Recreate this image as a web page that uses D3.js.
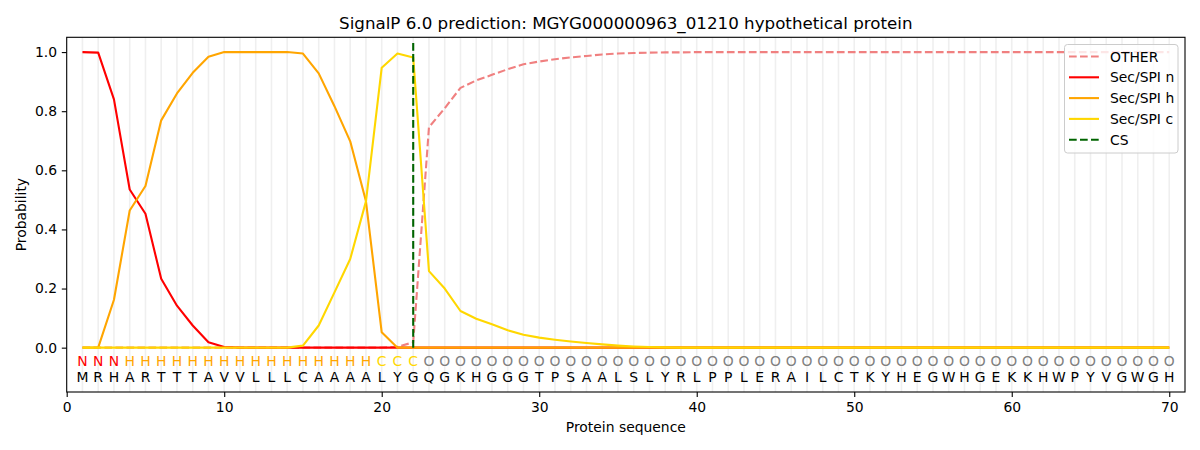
<!DOCTYPE html>
<html>
<head>
<meta charset="utf-8">
<script src="https://cdn.jsdelivr.net/npm/d3@7"></script>
<style>
  body { margin: 0; background: #fff; }
  svg { display: block; font-family: "DejaVu Sans", sans-serif; }
</style>
</head>
<body>
<svg id="chart" width="1200" height="450"></svg>
<script>
const sequence = 'MRHARTTTAVVLLLCAAAALYGQGKHGGGTPSAALSLYRLPPLERAILCTKYHEGWHGEKKHWPYVGWGH'.split('');
const regions = 'NNNHHHHHHHHHHHHHHHHCCC'.split('').concat(Array(48).fill('O'));

const otherProb = [0, 0, 0, 0, 0, 0, 0, 0, 0, 0, 0, 0, 0, 0, 0, 0, 0, 0, 0, 0,
  0.003, 0.018, 0.746, 0.81, 0.879, 0.904, 0.923, 0.942, 0.959, 0.968,
  0.976, 0.982, 0.987, 0.992, 0.995, 0.997, 0.998, 0.999, 0.999, 1.0,
  1, 1, 1, 1, 1, 1, 1, 1, 1, 1, 1, 1, 1, 1, 1, 1, 1, 1, 1, 1,
  1, 1, 1, 1, 1, 1, 1, 1, 1, 1];
const nProb = [1.0, 0.998, 0.84, 0.535, 0.453, 0.233, 0.142, 0.075, 0.018, 0.002,
  0, 0, 0, 0, 0, 0, 0, 0, 0, 0, 0, 0, 0, 0, 0, 0, 0, 0, 0, 0,
  0, 0, 0, 0, 0, 0, 0, 0, 0, 0, 0, 0, 0, 0, 0, 0, 0, 0, 0, 0,
  0, 0, 0, 0, 0, 0, 0, 0, 0, 0, 0, 0, 0, 0, 0, 0, 0, 0, 0, 0];
const hProb = [0, 0, 0.162, 0.464, 0.547, 0.769, 0.86, 0.93, 0.984, 1.0,
  1.0, 1.0, 1.0, 1.0, 0.995, 0.928, 0.817, 0.698, 0.495, 0.052,
  0, 0, 0, 0, 0, 0, 0, 0, 0, 0, 0, 0, 0, 0, 0, 0, 0, 0, 0, 0,
  0, 0, 0, 0, 0, 0, 0, 0, 0, 0, 0, 0, 0, 0, 0, 0, 0, 0, 0, 0,
  0, 0, 0, 0, 0, 0, 0, 0, 0, 0];
const cProb = [0, 0, 0, 0, 0, 0, 0, 0, 0, 0, 0, 0, 0, 0, 0.007, 0.075, 0.187, 0.3, 0.495, 0.947,
  0.995, 0.982, 0.259, 0.2, 0.124, 0.098, 0.079, 0.059, 0.044, 0.034,
  0.027, 0.021, 0.016, 0.011, 0.007, 0.004, 0.002, 0.001, 0, 0,
  0, 0, 0, 0, 0, 0, 0, 0, 0, 0, 0, 0, 0, 0, 0, 0, 0, 0, 0, 0,
  0, 0, 0, 0, 0, 0, 0, 0, 0, 0];
const cleavageSite = 22;
const xTicks = [0, 10, 20, 30, 40, 50, 60, 70];
const yTicks = [0, 0.2, 0.4, 0.6, 0.8, 1.0];

const series = [
  { name: 'OTHER', values: otherProb, color: '#f08080', dash: '7.7,3.3' },
  { name: 'Sec/SPI n', values: nProb, color: '#ff0000', dash: null },
  { name: 'Sec/SPI h', values: hProb, color: '#ffa500', dash: null },
  { name: 'Sec/SPI c', values: cProb, color: '#ffd700', dash: null }
];
const regionColor = { N: '#ff0000', H: '#ffa500', C: '#ffd700', O: '#808080' };

const svg = d3.select('#chart');
const plotLeft = 66.7, plotRight = 1185, plotTop = 37.3, plotBottom = 392;

const x = d3.scaleLinear().domain([0, 71]).range([plotLeft, plotRight]);
const y = d3.scaleLinear().domain([-0.15, 1.05]).range([plotBottom, plotTop]);

// residue grid lines
svg.append('g').selectAll('line')
  .data(sequence)
  .enter().append('line')
  .attr('x1', (d, i) => x(i + 1)).attr('x2', (d, i) => x(i + 1))
  .attr('y1', plotTop).attr('y2', plotBottom)
  .attr('stroke', '#efefef')
  .attr('stroke-width', 1.6);

const line = d3.line()
  .x((d, i) => x(i + 1))
  .y(d => y(d));

series.forEach(s => {
  svg.append('path')
    .attr('d', line(s.values))
    .attr('fill', 'none')
    .attr('stroke', s.color)
    .attr('stroke-width', 2.1)
    .attr('stroke-dasharray', s.dash)
    .attr('stroke-linejoin', 'round');
});

// cleavage site
svg.append('line')
  .attr('x1', x(cleavageSite)).attr('x2', x(cleavageSite))
  .attr('y1', y(0)).attr('y2', y(1.038))
  .attr('stroke', '#006400')
  .attr('stroke-width', 2.1)
  .attr('stroke-dasharray', '7.7,3.3');

// region letters and sequence
svg.append('g').selectAll('text')
  .data(regions)
  .enter().append('text')
  .attr('x', (d, i) => x(i + 1))
  .attr('y', y(-0.046))
  .attr('dy', '0.36em')
  .attr('text-anchor', 'middle')
  .attr('font-size', 13.9)
  .attr('fill', d => regionColor[d])
  .text(d => d);

svg.append('g').selectAll('text')
  .data(sequence)
  .enter().append('text')
  .attr('x', (d, i) => x(i + 1))
  .attr('y', y(-0.1))
  .attr('dy', '0.36em')
  .attr('text-anchor', 'middle')
  .attr('font-size', 13.9)
  .attr('fill', '#000')
  .text(d => d);

// axes
const xAxis = svg.append('g')
  .attr('transform', `translate(0,${plotBottom})`)
  .call(d3.axisBottom(x).tickValues(xTicks).tickFormat(d3.format('d')).tickSizeOuter(0).tickSize(4.9).tickPadding(4.8));
const yAxis = svg.append('g')
  .attr('transform', `translate(${plotLeft},0)`)
  .call(d3.axisLeft(y).tickValues(yTicks).tickFormat(d3.format('.1f')).tickSizeOuter(0).tickSize(4.9).tickPadding(4.8));
[xAxis, yAxis].forEach(a => {
  a.selectAll('text').attr('font-size', 13.9).attr('font-family', '"DejaVu Sans", sans-serif').attr('fill', '#000');
  a.selectAll('line').attr('stroke', '#000').attr('stroke-width', 1.1);
  a.select('.domain').remove();
});

// frame
svg.append('rect')
  .attr('x', plotLeft).attr('y', plotTop)
  .attr('width', plotRight - plotLeft).attr('height', plotBottom - plotTop)
  .attr('fill', 'none').attr('stroke', '#000').attr('stroke-width', 1.1);

// labels
svg.append('text')
  .attr('x', (plotLeft + plotRight) / 2).attr('y', 29)
  .attr('text-anchor', 'middle').attr('font-size', 16.7)
  .text('SignalP 6.0 prediction: MGYG000000963_01210 hypothetical protein');
svg.append('text')
  .attr('x', (plotLeft + plotRight) / 2).attr('y', 432)
  .attr('text-anchor', 'middle').attr('font-size', 13.9)
  .text('Protein sequence');
svg.append('text')
  .attr('transform', `translate(26,${(plotTop + plotBottom) / 2}) rotate(-90)`)
  .attr('text-anchor', 'middle').attr('font-size', 13.9)
  .text('Probability');

// legend
const legendItems = series.concat([{ name: 'CS', color: '#006400', dash: '7.7,3.3' }]);
const legend = svg.append('g');
legend.append('rect')
  .attr('x', 1064.5).attr('y', 44.5)
  .attr('width', 113.5).attr('height', 108.5)
  .attr('rx', 3)
  .attr('fill', 'rgba(255,255,255,0.8)')
  .attr('stroke', '#cccccc');
legendItems.forEach((s, i) => {
  const ly = 56.5 + i * 20.8;
  legend.append('line')
    .attr('x1', 1069).attr('x2', 1099)
    .attr('y1', ly).attr('y2', ly)
    .attr('stroke', s.color).attr('stroke-width', 2.1)
    .attr('stroke-dasharray', s.dash);
  legend.append('text')
    .attr('x', 1110).attr('y', ly)
    .attr('dy', '0.36em')
    .attr('font-size', 13.9)
    .text(s.name);
});
</script>
</body>
</html>
